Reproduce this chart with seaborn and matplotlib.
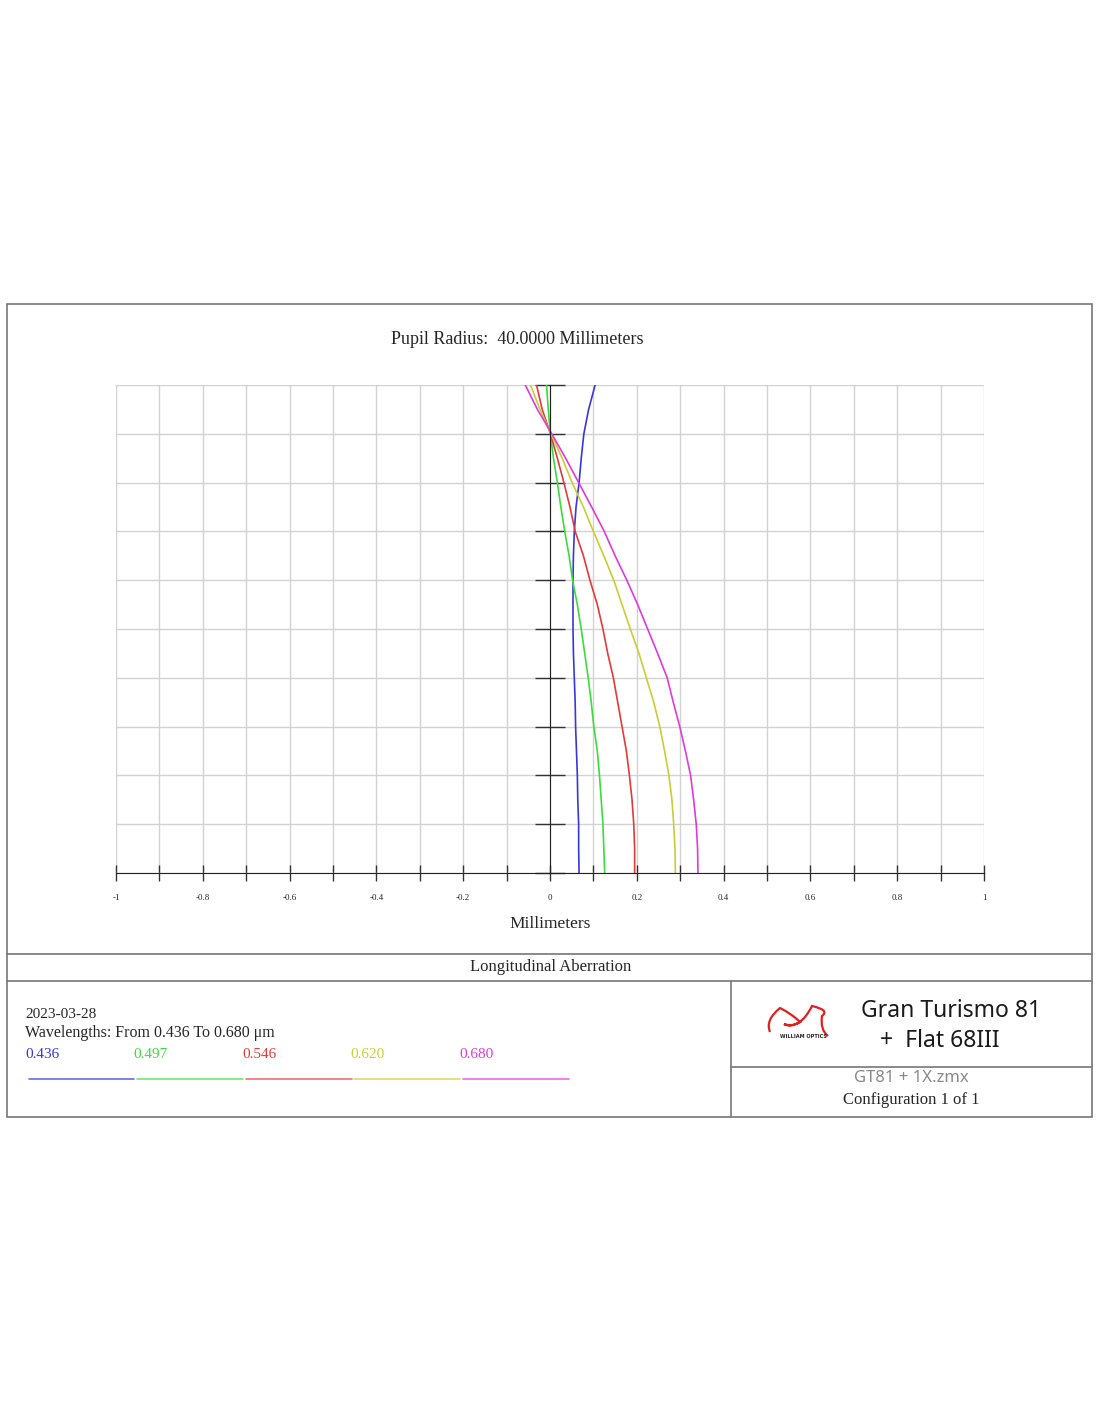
#  Longitudinal aberration - GT81 + Flat 68III
import numpy as np
import pandas as pd
import seaborn as sns
import matplotlib.pyplot as plt
from matplotlib.lines import Line2D
from matplotlib.patches import Rectangle, PathPatch
from matplotlib.path import Path

# pupil zone (0 = axis, 1 = edge)
pupil = [0.0, 0.05, 0.1, 0.15, 0.2, 0.25, 0.3, 0.35, 0.4, 0.45, 0.5,
         0.55, 0.6, 0.65, 0.7, 0.75, 0.8, 0.85, 0.9, 0.95, 1.0]
# focus shift in mm for each wavelength
w436 = [0.067, 0.066, 0.066, 0.064, 0.063, 0.061, 0.059, 0.058, 0.056, 0.054, 0.053,
        0.053, 0.053, 0.054, 0.056, 0.060, 0.067, 0.072, 0.078, 0.089, 0.104]
w497 = [0.126, 0.124, 0.122, 0.118, 0.114, 0.109, 0.101, 0.095, 0.088, 0.080, 0.072,
        0.063, 0.052, 0.044, 0.034, 0.025, 0.017, 0.008, 0.001, -0.004, -0.008]
w546 = [0.195, 0.195, 0.193, 0.189, 0.183, 0.176, 0.166, 0.156, 0.146, 0.133, 0.122,
        0.109, 0.092, 0.077, 0.058, 0.046, 0.032, 0.017, 0.001, -0.018, -0.031]
w620 = [0.289, 0.288, 0.285, 0.281, 0.274, 0.264, 0.253, 0.239, 0.222, 0.205, 0.185,
        0.166, 0.147, 0.124, 0.100, 0.077, 0.051, 0.028, 0.002, -0.023, -0.045]
w680 = [0.341, 0.340, 0.337, 0.331, 0.324, 0.312, 0.299, 0.284, 0.270, 0.248, 0.225,
        0.202, 0.177, 0.150, 0.125, 0.096, 0.066, 0.036, 0.004, -0.029, -0.057]

wl_labels = ['0.436', '0.497', '0.546', '0.620', '0.680']
wl_colors = ['#3838d8', '#3cdc3c', '#e43a3a', '#cccc36', '#de3ade']
legend_colors = ['#6a6ae6', '#72e872', '#ec7272', '#dada6a', '#ea6aea']

xticks = np.round(np.arange(-1, 1.01, 0.1), 1)
yticks = np.round(np.arange(0, 1.01, 0.1), 1)

rows = []
for lab, vals in zip(wl_labels, [w436, w497, w546, w620, w680]):
    for p, v in zip(pupil, vals):
        rows.append({'wavelength': lab, 'pupil': p, 'focus': v})
df = pd.DataFrame(rows)

sns.set_style('white')
plt.rcParams['font.family'] = ['Liberation Serif', 'DejaVu Serif']

W, H = 1100, 1422
fig = plt.figure(figsize=(W / 100, H / 100), dpi=100)

def fx(px):
    return px / W

def fy(py):
    return 1 - py / H

ax = fig.add_axes([fx(116), fy(873), (984 - 116) / W, (873 - 385) / H])
sns.lineplot(data=df, x='focus', y='pupil', hue='wavelength', palette=wl_colors,
             sort=False, estimator=None, legend=False, lw=1.2, ax=ax)

ax.set_xlim(-1, 1)
ax.set_ylim(0, 1)
ax.set_xticks(xticks)
ax.set_xticklabels([('%g' % abs(t) if t == 0 else '%g' % t) if i % 2 == 0 else ''
                    for i, t in enumerate(xticks)], fontsize=6.5)
ax.set_yticks(yticks)
ax.set_yticklabels([])
ax.grid(True, color='#d2d2d2', lw=1)
ax.set_axisbelow(True)
for s in ['top', 'right']:
    ax.spines[s].set_visible(False)
ax.spines['left'].set_position(('data', 0))
ax.spines['left'].set_color('#222222')
ax.spines['bottom'].set_color('#222222')
ax.tick_params(axis='x', bottom=True, direction='inout', length=12, width=1,
               color='#333333', pad=9)
ax.tick_params(axis='y', left=True, direction='inout', length=22, width=1, color='#333333')
ax.set_xlabel('Millimeters', fontsize=12.5, labelpad=10)
ax.set_ylabel('')

# frames
fig.add_artist(Rectangle((fx(7), fy(1117)), (1092 - 7) / W, (1117 - 304) / H,
                         transform=fig.transFigure, fill=False, ec='#777777', lw=1.2))
for y0 in [954, 981]:
    fig.add_artist(Line2D([fx(7), fx(1092)], [fy(y0), fy(y0)], color='#777777', lw=1.2))
fig.add_artist(Line2D([fx(731), fx(731)], [fy(981), fy(1117)], color='#777777', lw=1.2))
fig.add_artist(Line2D([fx(731), fx(1092)], [fy(1067), fy(1067)], color='#777777', lw=1.2))

fig.text(fx(517), fy(339), 'Pupil Radius:  40.0000 Millimeters', ha='center', va='center', fontsize=13)
fig.text(fx(551), fy(967), 'Longitudinal Aberration', ha='center', va='center', fontsize=12)
fig.text(fx(25), fy(1014), '2023-03-28', ha='left', va='center', fontsize=11)
fig.text(fx(25), fy(1033), 'Wavelengths: From 0.436 To 0.680 \u03bcm', ha='left', va='center', fontsize=11.5)
lab_x = [25, 133, 242, 350, 459]
line_x = [(29, 134), (137, 243), (246, 352), (354, 460), (463, 569)]
for lab, c, lc, x0, (a, b) in zip(wl_labels, wl_colors, legend_colors, lab_x, line_x):
    fig.text(fx(x0), fy(1055), lab, ha='left', va='center', fontsize=11, color=c)
    fig.add_artist(Line2D([fx(a), fx(b)], [fy(1079), fy(1079)], color=lc, lw=1.2))

# right block
fig.text(fx(951), fy(1011), 'Gran Turismo 81', ha='center', va='center', fontsize=16.5,
         family=['Noto Sans', 'DejaVu Sans'], color='#1a1a1a')
fig.text(fx(940), fy(1041), '+  Flat 68III', ha='center', va='center', fontsize=16.5,
         family=['Noto Sans', 'DejaVu Sans'], color='#1a1a1a')
fig.text(fx(911), fy(1078), 'GT81 + 1X.zmx', ha='center', va='center', fontsize=12,
         family=['Noto Sans', 'DejaVu Sans'], color='#888888')
fig.text(fx(911), fy(1100), 'Configuration 1 of 1', ha='center', va='center', fontsize=12)

# logo swoosh
verts = [(fx(770), fy(1032)), (fx(765), fy(1020)), (fx(780), fy(1008)), (fx(792), fy(1014)),
         (fx(800), fy(1022)), (fx(790), fy(1028)), (fx(784), fy(1024)),
         (fx(800), fy(1030)), (fx(812), fy(1006)), (fx(830), fy(1010)),
         (fx(822), fy(1016)), (fx(820), fy(1030)), (fx(828), fy(1036))]
codes = [Path.MOVETO] + [Path.CURVE3] * 12
fig.add_artist(PathPatch(Path(verts, codes), transform=fig.transFigure, fill=False,
                         ec='#e02020', lw=1.6))
fig.text(fx(803), fy(1037), 'WILLIAM OPTICS', ha='center', va='center', fontsize=3.6,
         weight='bold', family=['DejaVu Sans'], color='#222222')

fig.savefig('out.png', dpi=100)
